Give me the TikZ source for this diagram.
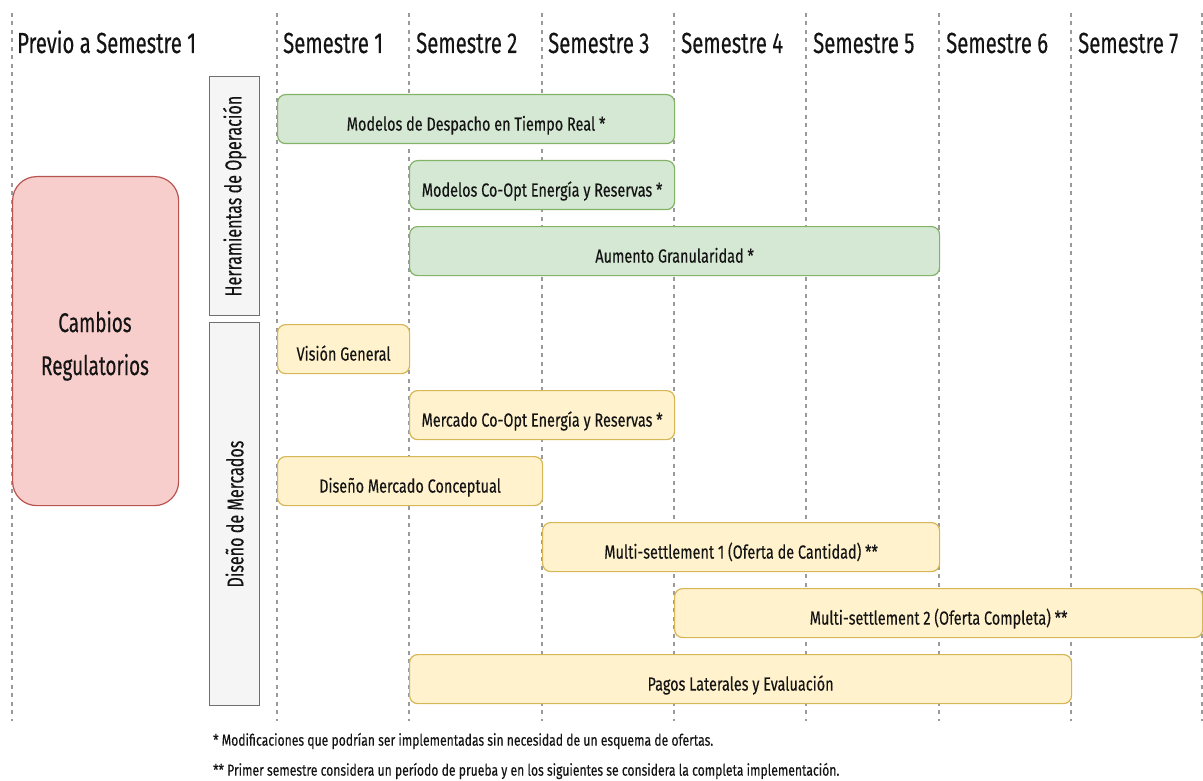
\documentclass[tikz,border=0pt]{standalone}
\usepackage{fontspec}
\setmainfont[FakeStretch=0.76, FakeBold=0.3]{Fira Sans}
\newfontfamily\narrowfont[FakeStretch=0.70, FakeBold=0.3]{Fira Sans}
\usetikzlibrary{positioning}

\definecolor{gridgray}{HTML}{9A9A9A}
\definecolor{greenfill}{HTML}{D5E8D4}
\definecolor{greenline}{HTML}{82B366}
\definecolor{yellowfill}{HTML}{FFF2CC}
\definecolor{yellowline}{HTML}{D6B656}
\definecolor{redfill}{HTML}{F8CECC}
\definecolor{redline}{HTML}{B85450}
\definecolor{groupfill}{HTML}{F5F5F5}
\definecolor{groupline}{HTML}{6F6F6F}
\definecolor{inkcol}{HTML}{141414}

\tikzset{
  gridline/.style={draw=gridgray, line width=1.1pt, dash pattern=on 4pt off 4.5pt},
  header/.style={anchor=base west, font=\narrowfont\fontsize{29}{32}\selectfont, text=inkcol, inner sep=0pt},
  taskbox/.style={anchor=north west, rounded corners=8pt, line width=1.2pt, inner sep=0pt,
    font=\fontsize{19}{22}\selectfont, text=inkcol, minimum height=49pt,
    text height=23pt, text depth=0pt},
  greenbox/.style={taskbox, fill=greenfill, draw=greenline},
  yellowbox/.style={taskbox, fill=yellowfill, draw=yellowline},
  groupbox/.style={anchor=north west, fill=groupfill, draw=groupline, line width=1.2pt,
    minimum width=50pt, inner sep=0pt},
  grouplabel/.style={rotate=90, font=\narrowfont\fontsize{23}{26}\selectfont, text=inkcol, inner sep=0pt},
  note/.style={anchor=west, font=\fontsize{16}{18}\selectfont, text=inkcol, inner sep=0pt}
}

\begin{document}
\begin{tikzpicture}[x=1pt, y=-1pt]
  \useasboundingbox (0,0) rectangle (1203,781);

  % semester grid
  \foreach \gx in {12,277,409,542,674,806,939,1071,1202}
    \draw[gridline] (\gx,13) -- (\gx,721);

  % column headers
  \node[header] (h0) at (17,53) {Previo a Semestre 1};
  \node[header] (h1) at (283,53) {Semestre 1};
  \node[header] (h2) at (416,53) {Semestre 2};
  \node[header] (h3) at (548,53) {Semestre 3};
  \node[header] (h4) at (681,53) {Semestre 4};
  \node[header] (h5) at (813,53) {Semestre 5};
  \node[header] (h6) at (946,53) {Semestre 6};
  \node[header] (h7) at (1078,53) {Semestre 7};

  % regulatory changes
  \node[anchor=north west, fill=redfill, draw=redline, line width=1.2pt, rounded corners=24pt,
        minimum width=166pt, minimum height=329pt, inner sep=0pt] (reg) at (12,176) {};
  \node[anchor=base, font=\narrowfont\fontsize{27}{30}\selectfont, text=inkcol, inner sep=0pt]
        (regA) at (95,332) {Cambios};
  \node[anchor=base, font=\narrowfont\fontsize{27}{30}\selectfont, text=inkcol, inner sep=0pt]
        (regB) at (95,375) {Regulatorios};

  % group labels
  \node[groupbox, minimum height=239pt] (gops) at (209,76) {};
  \node[grouplabel] (gopsl) at (gops.center) {Herramientas de Operación};
  \node[groupbox, minimum height=383pt] (gmkt) at (209,322) {};
  \node[grouplabel] (gmktl) at (gmkt.center) {Diseño de Mercados};

  % operation tools
  \node[greenbox, minimum width=397pt] (t1) at (277,94) {Modelos de Despacho en Tiempo Real *};
  \node[greenbox, minimum width=265pt] (t2) at (409,160) {Modelos Co-Opt Energía y Reservas *};
  \node[greenbox, minimum width=530pt] (t3) at (409,226) {Aumento Granularidad *};

  % market design
  \node[yellowbox, minimum width=132pt] (m1) at (277,324) {Visión General};
  \node[yellowbox, minimum width=265pt] (m2) at (409,390) {Mercado Co-Opt Energía y Reservas *};
  \node[yellowbox, minimum width=265pt] (m3) at (277,456) {Diseño Mercado Conceptual};
  \node[yellowbox, minimum width=397pt] (m4) at (542,522) {Multi-settlement 1 (Oferta de Cantidad) **};
  \node[yellowbox, minimum width=528pt] (m5) at (674,588) {Multi-settlement 2 (Oferta Completa) **};
  \node[yellowbox, minimum width=662pt] (m6) at (409,654) {Pagos Laterales y Evaluación};

  % footnotes
  \node[note] (n1) at (213,741) {* Modificaciones que podrían ser implementadas sin necesidad de un esquema de ofertas.};
  \node[note] (n2) at (213,771) {** Primer semestre considera un período de prueba y en los siguientes se considera la completa implementación.};
\end{tikzpicture}
\end{document}
